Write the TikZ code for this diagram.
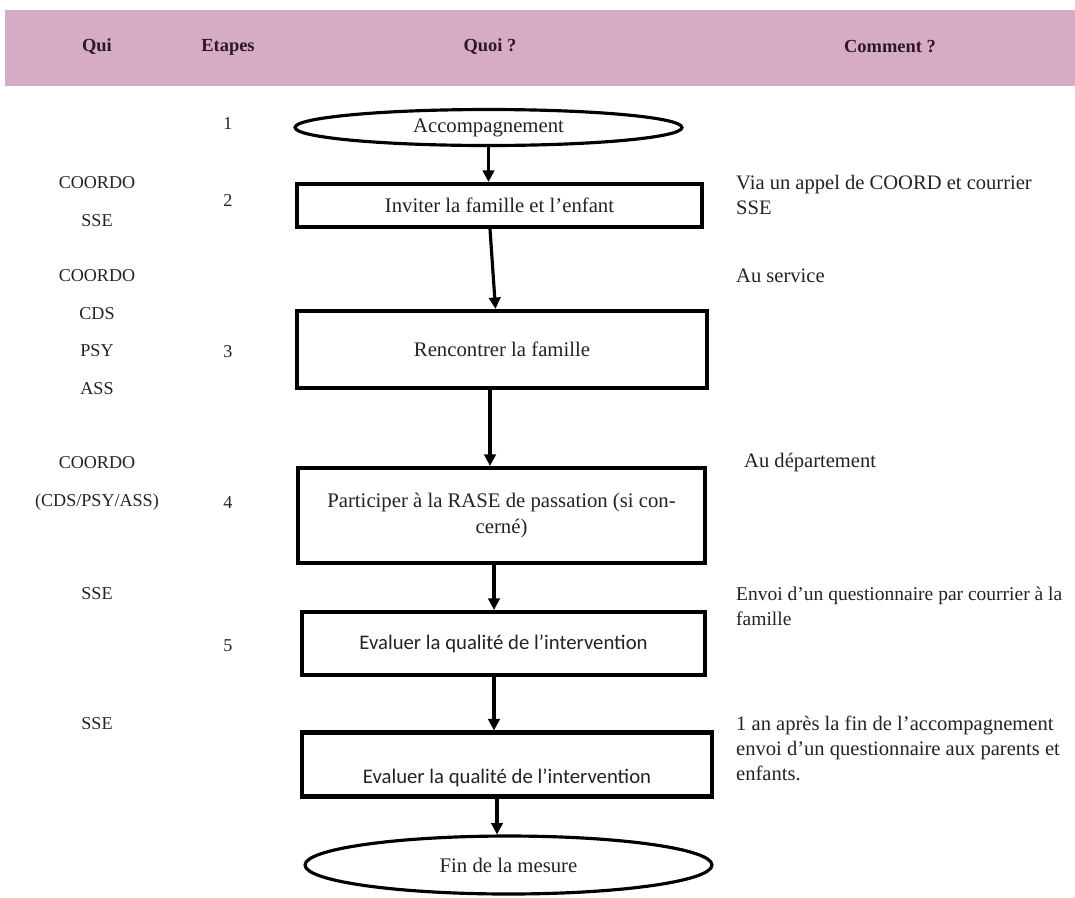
\documentclass[tikz,border=0pt]{standalone}
\usepackage{fontspec}
\setmainfont{Liberation Serif}
\newfontfamily\calib{Carlito}
\usepackage{tikz}
\usetikzlibrary{shapes.geometric, positioning, arrows.meta}
\definecolor{HeadPink}{RGB}{214,171,196}
\definecolor{HeadText}{RGB}{45,25,35}
\definecolor{TxtGray}{RGB}{35,35,35}

\begin{document}
\begin{tikzpicture}[x=0.02cm, y=-0.02cm,
          stepbox/.style={rectangle, draw=black, line width=2.4pt, align=center,
                          font=\fontsize{11.8}{14.5}\selectfont, text=TxtGray},
          endpt/.style={ellipse, draw=black, line width=1.8pt, inner sep=0pt,
                        font=\fontsize{11.8}{14.5}\selectfont, text=TxtGray},
          hd/.style={font=\bfseries\fontsize{10.5}{13}\selectfont, text=HeadText},
          qui/.style={font=\fontsize{10.3}{12}\selectfont, text=TxtGray},
          cmt/.style={anchor=west, align=left, font=\fontsize{11.7}{14.2}\selectfont, text=TxtGray},
          arr/.style={-{Triangle[length=6.5pt, width=6.5pt]}, draw=black, line width=1.8pt}
        ]
        % page and header band
        \useasboundingbox (0,0) rectangle (1075,897);
        \fill[white] (0,0) rectangle (1075,897);
        \fill[HeadPink] (5,10) rectangle (1075,86);
        \node[hd] (hqui) at (97,47) {Qui};
        \node[hd] (hetp) at (228,47) {Etapes};
        \node[hd] (hquoi) at (490,47) {Quoi ?};
        \node[hd] (hcmt) at (890,47) {Comment ?};

        % flow
        \node[endpt, minimum width=7.74cm, minimum height=0.72cm] (e1) at (488.5,127.5) {Accompagnement};
        \node[stepbox, minimum width=8.1cm, minimum height=0.86cm] (b2) at (499.5,205.5)
              {Inviter la famille et l’enfant};
        \node[stepbox, minimum width=8.2cm, minimum height=1.54cm] (b3) at (502,349.5)
              {Rencontrer la famille};
        \node[stepbox, minimum width=8.14cm, minimum height=1.9cm] (b4) at (501.5,515.5)
              {Participer à la RASE de passation (si con-\\cerné)};
        \node[stepbox, minimum width=8.06cm, minimum height=1.26cm, font=\calib\fontsize{11.8}{14.5}\selectfont]
              (b5) at (503.5,643.5) {Evaluer la qualité de l’intervention};
        \node[stepbox, minimum width=8.2cm, inner ysep=0pt, text height=1.02cm, text depth=0.26cm,
              font=\calib\fontsize{11.8}{14.5}\selectfont]
              (b6) at (507,764.5) {Evaluer la qualité de l’intervention};
        \node[endpt, minimum width=8.14cm, minimum height=1.16cm] (e2) at (508.5,865) {Fin de la mesure};

        \draw[arr] (e1.south) -- (e1.south |- b2.north);
        \draw[arr] ([xshift=-0.19cm]b2.south) -- ([xshift=-0.13cm]b3.north);
        \draw[arr] ([xshift=-0.24cm]b3.south) -- ([xshift=-0.24cm]b3.south |- b4.north);
        \draw[arr] ([xshift=-0.15cm]b4.south) -- ([xshift=-0.15cm]b4.south |- b5.north);
        \draw[arr] ([xshift=-0.19cm]b5.south) -- ([xshift=-0.19cm]b5.south |- b6.north);
        \draw[arr] ([xshift=-0.2cm]b6.south) -- ([xshift=-0.2cm]b6.south |- e2.north);

        % Qui
        \node[qui] (q2a) at (97,183) {COORDO};
        \node[qui] (q2b) at (97,221) {SSE};
        \node[qui] (q3a) at (97,276) {COORDO};
        \node[qui] (q3b) at (97,314) {CDS};
        \node[qui] (q3c) at (97,351) {PSY};
        \node[qui] (q3d) at (97,389) {ASS};
        \node[qui] (q4a) at (97,463) {COORDO};
        \node[qui] (q4b) at (97,502) {(CDS/PSY/ASS)};
        \node[qui] (q5) at (97,594) {SSE};
        \node[qui] (q6) at (97,724) {SSE};

        % Etapes
        \node[qui] (s1) at (228,124) {1};
        \node[qui] (s2) at (228,200) {2};
        \node[qui] (s3) at (228,352) {3};
        \node[qui] (s4) at (228,503) {4};
        \node[qui] (s5) at (228,646) {5};

        % Comment
        \node[cmt] (c2) at (730,195) {Via un appel de COORD et courrier\\SSE};
        \node[cmt] (c3) at (730,276) {Au service};
        \node[cmt] (c4) at (738,463) {Au département};
        \node[cmt, font=\fontsize{11.1}{14.2}\selectfont] (c5) at (730,606)
              {Envoi d’un questionnaire par courrier à la\\famille};
        \node[cmt] (c6) at (730,748) {1 an après la fin de l’accompagnement\\envoi d’un questionnaire aux parents et\\enfants.};
\end{tikzpicture}
\end{document}
